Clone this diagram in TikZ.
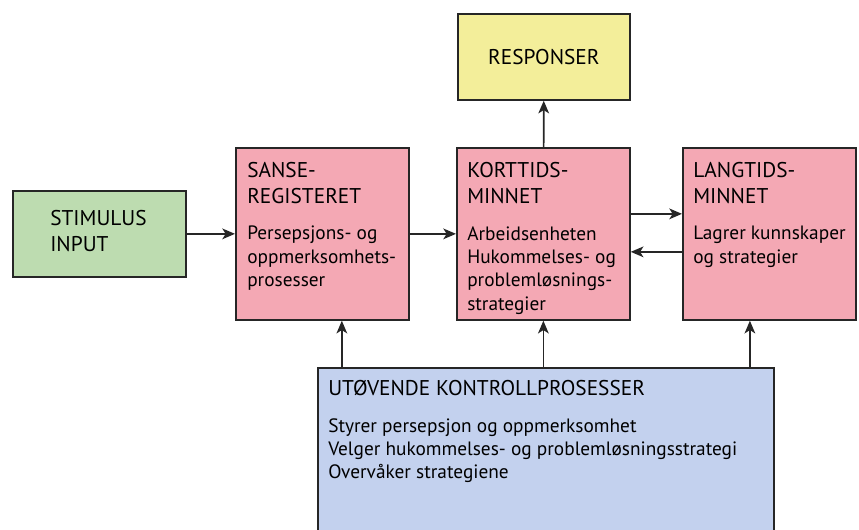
\documentclass[tikz,border=0pt]{standalone}
\usepackage{fontspec}
\setmainfont{PT Sans}
\usetikzlibrary{arrows.meta}
\usetikzlibrary{positioning}
\definecolor{stimgreen}{RGB}{189,220,176}
\definecolor{boxpink}{RGB}{244,168,180}
\definecolor{respyellow}{RGB}{243,238,154}
\definecolor{ctrlblue}{RGB}{195,209,238}
\begin{document}
\begin{tikzpicture}[x=0.75pt,y=-0.75pt,
            >={Stealth[length=9.5pt,width=8pt,inset=2.5pt]},
            box/.style = {draw=black!85,line width=1.3pt,anchor=north west,
                inner sep=0pt},
            head/.style = {anchor=north west,align=left,inner sep=0pt,
                font=\fontsize{16}{19.5}\selectfont},
            body/.style = {anchor=north west,align=left,inner sep=0pt,
                font=\fontsize{14.5}{17.5}\selectfont},
            link/.style = {->,line width=1.3pt,draw=black!85}]
            \useasboundingbox (0,0) rectangle (859,530);
            \node[box,fill=stimgreen,minimum width=129.75pt,minimum height=64.5pt](stim) at (12,190) {};
            \node[box,fill=boxpink,minimum width=129.75pt,minimum height=129pt](sanse) at (235,147) {};
            \node[box,fill=boxpink,minimum width=129.75pt,minimum height=129pt](kort) at (456,147) {};
            \node[box,fill=boxpink,minimum width=129.75pt,minimum height=129pt](lang) at (682,147) {};
            \node[box,fill=respyellow,minimum width=129pt,minimum height=64.5pt,
                font=\fontsize{16}{19.5}\selectfont](resp) at (457,13) {RESPONSER};
            \node[box,fill=ctrlblue,minimum width=342pt,minimum height=150pt](ctrl) at (317,367) {};
            \node[head](stimtxt) at ([shift={(38,20.5)}]stim.north west) {STIMULUS\\INPUT};
            \node[head](sansetxt) at ([shift={(12,15)}]sanse.north west) {SANSE-\\REGISTERET};
            \node[body](sansebody) at ([shift={(12,79)}]sanse.north west)
                {Persepsjons- og\\oppmerksomhets-\\prosesser};
            \node[head](korttxt) at ([shift={(11,15)}]kort.north west) {KORTTIDS-\\MINNET};
            \node[body](kortbody) at ([shift={(11,79)}]kort.north west)
                {Arbeidsenheten\\Hukommelses- og\\problemløsnings-\\strategier};
            \node[head](langtxt) at ([shift={(11,15)}]lang.north west) {LANGTIDS-\\MINNET};
            \node[body](langbody) at ([shift={(11,79)}]lang.north west)
                {Lagrer kunnskaper\\og strategier};
            \node[head](ctrltxt) at ([shift={(11,13.5)}]ctrl.north west) {UTØVENDE KONTROLLPROSESSER};
            \node[body](ctrlbody) at ([shift={(11,51)}]ctrl.north west)
                {Styrer persepsjon og oppmerksomhet\\Velger hukommelses- og problemløsningsstrategi\\Overvåker strategiene};
            \coordinate (s1) at ([xshift=14.6pt]sanse.south);
            \coordinate (s3) at ([xshift=-14.6pt]lang.south);
            \draw[link] (stim) -- (sanse);
            \draw[link] (sanse) -- (kort);
            \draw[link] ([yshift=15pt]kort.east) -- ([yshift=15pt]lang.west);
            \draw[link] ([yshift=-13.5pt]lang.west) -- ([yshift=-13.5pt]kort.east);
            \draw[link] (kort) -- (resp);
            \draw[link] (s1 |- ctrl.north) -- (s1);
            \draw[link] (kort.south |- ctrl.north) -- (kort.south);
            \draw[link] (s3 |- ctrl.north) -- (s3);
        \end{tikzpicture}
\end{document}
